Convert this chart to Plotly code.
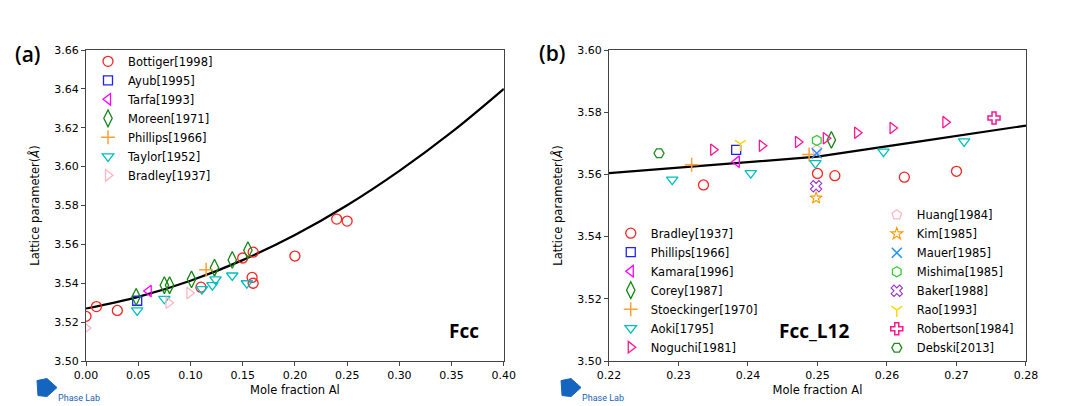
import plotly.graph_objects as go

# ---------------- data: panel (a) Fcc ----------------
curve_a_x = [0.00, 0.05, 0.10, 0.15, 0.20, 0.25, 0.30, 0.35, 0.40]
curve_a_y = [3.5270, 3.5330, 3.5413, 3.5519, 3.5648, 3.5801, 3.5978, 3.6177, 3.6400]

bottiger_x = [0.000, 0.010, 0.030, 0.110, 0.150, 0.160, 0.159, 0.160, 0.200, 0.240, 0.250]
bottiger_y = [3.523, 3.528, 3.526, 3.538, 3.553, 3.556, 3.543, 3.540, 3.554, 3.573, 3.572]
ayub_x = [0.049]
ayub_y = [3.531]
tarfa_x = [0.060]
tarfa_y = [3.536]
moreen_x = [0.048, 0.075, 0.080, 0.101, 0.123, 0.140, 0.155]
moreen_y = [3.533, 3.539, 3.539, 3.542, 3.548, 3.552, 3.557]
phillips_a_x = [0.115]
phillips_a_y = [3.547]
taylor_x = [0.049, 0.075, 0.111, 0.121, 0.124, 0.140, 0.154]
taylor_y = [3.526, 3.532, 3.537, 3.539, 3.542, 3.544, 3.540]
bradley_a_x = [0.000, 0.079, 0.099]
bradley_a_y = [3.517, 3.530, 3.535]

# ---------------- data: panel (b) Fcc_L12 ----------------
curve_b_x = [0.220, 0.235, 0.250, 0.265, 0.280]
curve_b_y = [3.5604, 3.5631, 3.5657, 3.5707, 3.5757]

bradley_b_x = [0.2336, 0.2500, 0.2525, 0.2625, 0.2700]
bradley_b_y = [3.5566, 3.5603, 3.5596, 3.5591, 3.5610]
phillips_b_x = [0.2383]
phillips_b_y = [3.5679]
kamara_x = [0.2384]
kamara_y = [3.5641]
corey_x = [0.2520]
corey_y = [3.5711]
stoeckinger_x = [0.2319, 0.2488]
stoeckinger_y = [3.5631, 3.5664]
aoki_x = [0.2291, 0.2404, 0.2497, 0.2595, 0.2711]
aoki_y = [3.5583, 3.5604, 3.5636, 3.5673, 3.5706]
noguchi_x = [0.2350, 0.2420, 0.2472, 0.2512, 0.2557, 0.2608, 0.2684]
noguchi_y = [3.5679, 3.5692, 3.5704, 3.5716, 3.5734, 3.5749, 3.5768]
huang_x = [0.2499]
huang_y = [3.5679]
kim_x = [0.2498]
kim_y = [3.5524]
mauer_x = [0.2499]
mauer_y = [3.5668]
mishima_x = [0.2499]
mishima_y = [3.5709]
baker_x = [0.2498]
baker_y = [3.5562]
rao_x = [0.2389]
rao_y = [3.5698]
robertson_x = [0.2754]
robertson_y = [3.5781]
debski_x = [0.2272]
debski_y = [3.5668]

ticks_a_x = [0.00, 0.05, 0.10, 0.15, 0.20, 0.25, 0.30, 0.35, 0.40]
ticks_a_y = [3.50, 3.52, 3.54, 3.56, 3.58, 3.60, 3.62, 3.64, 3.66]
ticks_b_x = [0.22, 0.23, 0.24, 0.25, 0.26, 0.27, 0.28]
ticks_b_y = [3.50, 3.52, 3.54, 3.56, 3.58, 3.60]

# ---------------- figure ----------------
# the page body adds an 8px offset; layout positions below are compensated
OFF = 8
W, H = 1080, 406
ML, MT = 86 - OFF, 50 - OFF
MR = W - (1025.9 - OFF)
MB = H - (361.4 - OFF)
PW = W - ML - MR
PH = H - MT - MB


def px2paper(px, py):
    fx, fy = px - OFF, py - OFF
    return (fx - ML) / PW, 1 - (fy - MT) / PH


FONT = "DejaVu Sans"
fig = go.Figure()


def add_pts(x, y, name, symbol, color, xa, ya, legend, size=10, lw=1.3):
    fig.add_trace(go.Scatter(
        x=x, y=y, mode="markers", name=name, xaxis=xa, yaxis=ya, legend=legend,
        marker=dict(symbol=symbol, size=size, color=color,
                    line=dict(width=lw, color=color)),
    ))


# curves
fig.add_trace(go.Scatter(x=curve_a_x, y=curve_a_y, mode="lines", line=dict(color="black", width=2.2, shape="spline"),
                         showlegend=False, xaxis="x", yaxis="y"))
fig.add_trace(go.Scatter(x=curve_b_x, y=curve_b_y, mode="lines", line=dict(color="black", width=2.2),
                         showlegend=False, xaxis="x2", yaxis="y2"))

RED = "#ff2020"
BLUE = "#2020ff"
MAG = "#ff00ff"
GRN = "#118811"
ORG = "#ffa033"
CYN = "#00bfbf"
PNK = "#ffb6c1"
DPNK = "#ff1493"

# panel a
add_pts(bottiger_x, bottiger_y, "Bottiger[1998]", "circle-open", RED, "x", "y", "legend")
add_pts(ayub_x, ayub_y, "Ayub[1995]", "square-open", BLUE, "x", "y", "legend", size=9)
add_pts(tarfa_x, tarfa_y, "Tarfa[1993]", "triangle-left-open", MAG, "x", "y", "legend")
add_pts(moreen_x, moreen_y, "Moreen[1971]", "diamond-tall-open", GRN, "x", "y", "legend", size=12)
add_pts(phillips_a_x, phillips_a_y, "Phillips[1966]", "cross-thin-open", ORG, "x", "y", "legend", size=10, lw=1.5)
add_pts(taylor_x, taylor_y, "Taylor[1952]", "triangle-down-open", CYN, "x", "y", "legend")
add_pts(bradley_a_x, bradley_a_y, "Bradley[1937]", "triangle-right-open", PNK, "x", "y", "legend")

# panel b, first legend column
add_pts(bradley_b_x, bradley_b_y, "Bradley[1937]", "circle-open", RED, "x2", "y2", "legend2")
add_pts(phillips_b_x, phillips_b_y, "Phillips[1966]", "square-open", BLUE, "x2", "y2", "legend2", size=9)
add_pts(kamara_x, kamara_y, "Kamara[1996]", "triangle-left-open", MAG, "x2", "y2", "legend2")
add_pts(corey_x, corey_y, "Corey[1987]", "diamond-tall-open", GRN, "x2", "y2", "legend2", size=12)
add_pts(stoeckinger_x, stoeckinger_y, "Stoeckinger[1970]", "cross-thin-open", ORG, "x2", "y2", "legend2", size=10, lw=1.5)
add_pts(aoki_x, aoki_y, "Aoki[1795]", "triangle-down-open", CYN, "x2", "y2", "legend2")
add_pts(noguchi_x, noguchi_y, "Noguchi[1981]", "triangle-right-open", DPNK, "x2", "y2", "legend2")

# panel b, second legend column
add_pts(huang_x, huang_y, "Huang[1984]", "pentagon-open", PNK, "x2", "y2", "legend3")
add_pts(kim_x, kim_y, "Kim[1985]", "star-open", "#ff9900", "x2", "y2", "legend3", size=9, lw=1.1)
add_pts(mauer_x, mauer_y, "Mauer[1985]", "x-thin-open", "#1e90ff", "x2", "y2", "legend3", size=10, lw=1.5)
add_pts(mishima_x, mishima_y, "Mishima[1985]", "hexagon-open", "#33cc33", "x2", "y2", "legend3")
add_pts(baker_x, baker_y, "Baker[1988]", "x-open", "#9932cc", "x2", "y2", "legend3", size=10, lw=1.1)
add_pts(rao_x, rao_y, "Rao[1993]", "y-down-open", "#ffd700", "x2", "y2", "legend3", size=9, lw=1.5)
add_pts(robertson_x, robertson_y, "Robertson[1984]", "cross-open", DPNK, "x2", "y2", "legend3", size=10, lw=1.5)
add_pts(debski_x, debski_y, "Debski[2013]", "hexagon2-open", "#228b22", "x2", "y2", "legend3")

axis_common = dict(showline=True, linecolor="#444444", linewidth=1, mirror=True,
                   ticks="outside", ticklen=4, tickwidth=1, tickcolor="#444444",
                   showgrid=False, zeroline=False, automargin=False,
                   tickfont=dict(family=FONT, size=11, color="black"),
                   title_font=dict(family=FONT, size=11.5, color="black"))

dA = [0, (503.8 - 86) / PW]
dB = [(608.9 - 86) / PW, 1]

fig.update_layout(
    width=W, height=H, template="none",
    paper_bgcolor="white", plot_bgcolor="white",
    margin=dict(l=ML, r=MR, t=MT, b=MB, pad=0),
    xaxis=dict(domain=dA, range=[0, 0.40], tickvals=ticks_a_x, tickformat=".2f",
               title=dict(text="Mole fraction Al", standoff=4), anchor="y", **axis_common),
    yaxis=dict(domain=[0, 1], range=[3.50, 3.66], tickvals=ticks_a_y, tickformat=".2f",
               title=dict(text="Lattice parameter(<i>Å</i>)", standoff=12), anchor="x", **axis_common),
    xaxis2=dict(domain=dB, range=[0.22, 0.28], tickvals=ticks_b_x, tickformat=".2f",
                title=dict(text="Mole fraction Al", standoff=4), anchor="y2", **axis_common),
    yaxis2=dict(domain=[0, 1], range=[3.50, 3.60], tickvals=ticks_b_y, tickformat=".2f",
                title=dict(text="Lattice parameter(<i>Å</i>)", standoff=12), anchor="x2", **axis_common),
    showlegend=True,
)

leg_common = dict(bgcolor="rgba(255,255,255,0)", borderwidth=0, yanchor="middle", xanchor="left",
                  font=dict(family=FONT, size=11.5, color="black"), itemclick=False,
                  tracegroupgap=0)
lx, ly = px2paper(88, 118.4)
fig.update_layout(legend=dict(x=lx, y=ly, **leg_common))
lx, ly = px2paper(610.7, 290.5)
fig.update_layout(legend2=dict(x=lx, y=ly, **leg_common))
lx, ly = px2paper(876.7, 281.6)
fig.update_layout(legend3=dict(x=lx, y=ly, **leg_common))

# panel labels and phase names
LBL = "Open Sans"
for txt, (px, py), size, weight in [
    ("(a)", (28, 54), 21, 600),
    ("(b)", (551.5, 53), 21, 600),
    ("Fcc", (464, 331), 19, 700),
    ("Fcc_L12", (814, 331), 19, 700),
]:
    x, y = px2paper(px, py)
    fig.add_annotation(x=x, y=y, xref="paper", yref="paper", text=txt, showarrow=False,
                       xanchor="center", yanchor="middle",
                       font=dict(family=LBL, size=size, color="black", weight=weight))

# Phase Lab logos (decoration)
for ox in (0, 524):
    pts = [(37 + ox, 381), (47 + ox, 379), (57 + ox, 388), (47 + ox, 397), (38 + ox, 396)]
    path = "M " + " L ".join(f"{px2paper(a, b)[0]:.5f},{px2paper(a, b)[1]:.5f}" for a, b in pts) + " Z"
    fig.add_shape(type="path", path=path, xref="paper", yref="paper",
                  fillcolor="#1565c0", line=dict(color="#1565c0", width=1))
    x, y = px2paper(79 + ox, 398)
    fig.add_annotation(x=x, y=y, xref="paper", yref="paper", text="Phase Lab", showarrow=False,
                       xanchor="center", yanchor="middle",
                       font=dict(family="Roboto", size=9, color="#1a5fb4"))

fig.write_html("out.html")
